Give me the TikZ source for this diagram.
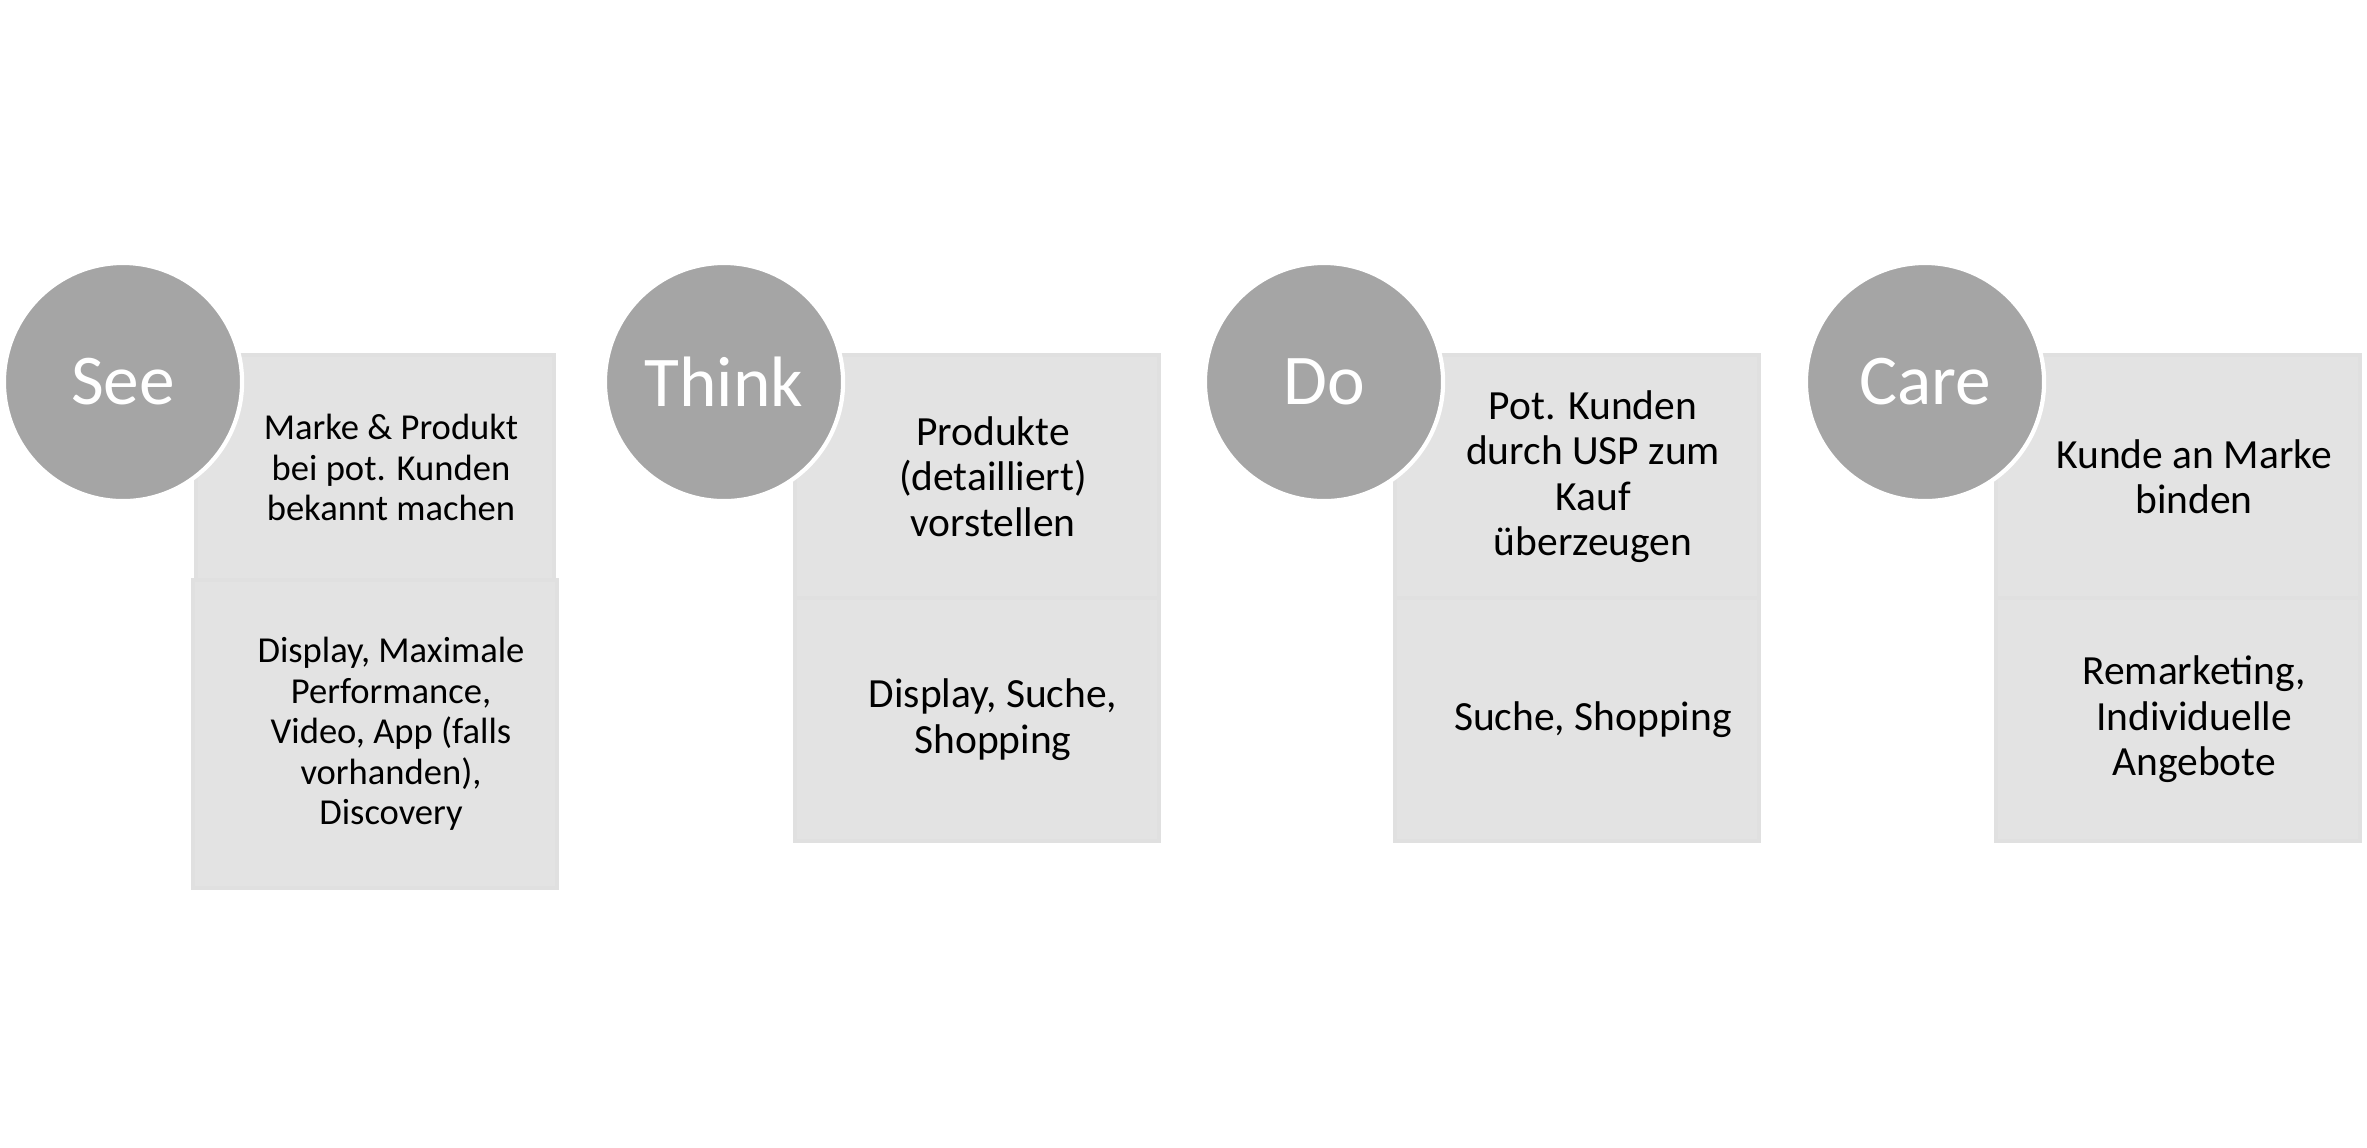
\documentclass[tikz,border=0pt]{standalone}
\usepackage{fontspec}
\setmainfont{Carlito}
\usetikzlibrary{positioning}

\definecolor{stagegray}{HTML}{A5A5A5}
\definecolor{panelgray}{HTML}{E3E3E3}
\definecolor{paneledge}{HTML}{E0E0E0}

\tikzset{
    stage/.style={circle, fill=stagegray, draw=white, line width=1.2pt,
        minimum size=2.38cm, inner sep=0pt, text=white,
        font=\fontsize{20.3}{24}\selectfont},
    panel/.style={rectangle, fill=panelgray, draw=paneledge, line width=1.1pt,
        inner sep=0pt, minimum width=3.64cm, minimum height=2.43cm},
    paneltext/.style={align=center, text=black, inner sep=0pt,
        font=\fontsize{11.8}{12.9}\selectfont},
    smalltext/.style={paneltext, font=\fontsize{10.4}{11.5}\selectfont}
}

\begin{document}
\begin{tikzpicture}[x=0.01cm, y=-0.01cm]
    \useasboundingbox (0,0) rectangle (2367,1147);

    % See: taller boxes, smaller text
    \node [panel, minimum width=3.58cm, minimum height=2.25cm] (see-goal) at (375,467.5) {};
    \node [panel, minimum height=3.08cm] (see-channel) at (375,734) {};
    \node [smalltext] at ([xshift=0.16cm]see-goal.center)
        {Marke \& Produkt\\bei pot. Kunden\\bekannt machen};
    \node [smalltext] at ([xshift=0.16cm]see-channel.center)
        {Display, Maximale\\Performance,\\Video, App (falls\\vorhanden),\\Discovery};
    \node [stage] (see) at (123,382) {See};

    % Think, Do, Care
    \foreach \cx/\name/\title/\goal/\channel in {
        724/think/Think/{Produkte\\(detailliert)\\vorstellen}/{Display, Suche,\\Shopping},
        1324/do/Do/{Pot. Kunden\\durch USP zum\\Kauf\\überzeugen}/{Suche, Shopping},
        1925/care/Care/{Kunde an Marke\\binden}/{Remarketing,\\Individuelle\\Angebote}} {
        \node [panel] (\name-goal) at (\cx+253,476.5) {};
        \node [panel] (\name-channel) at (\cx+253,719.5) {};
        \node [paneltext] at ([xshift=0.16cm]\name-goal.center) {\goal};
        \node [paneltext] at ([xshift=0.16cm]\name-channel.center) {\channel};
        \node [stage] (\name) at (\cx,382) {\title};
    }
\end{tikzpicture}
\end{document}
